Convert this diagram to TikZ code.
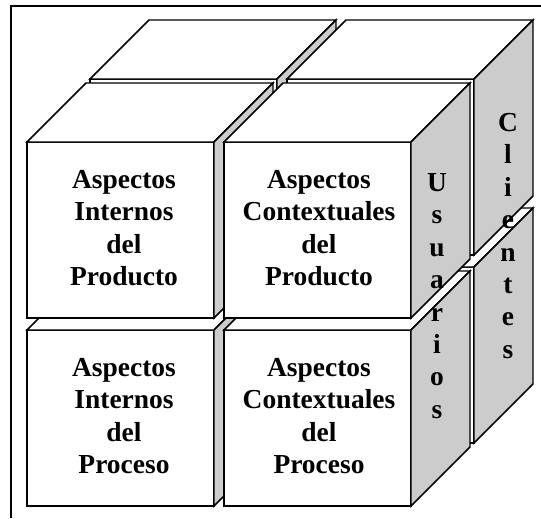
\documentclass[tikz,border=0pt]{standalone}
\usepackage{fontspec}
\setmainfont{Liberation Serif}
\definecolor{gris}{gray}{0.8}

\begin{document}
\begin{tikzpicture}[x=0.75pt, y=-0.75pt, z={(0.75pt,0.75pt)}]
	\tikzstyle{cara} = [draw, line width=1.1pt, fill=white];
	\tikzstyle{lado} = [cara, fill=gris];
	\tikzstyle{marco} = [line width=1.5pt];
	\tikzstyle{texto} = [align=center, inner sep=0pt, font={\bfseries\fontsize{20.6}{24.3}\selectfont}];

	\useasboundingbox (0,0) rectangle (541,518);
	\draw[marco] (11,518) -- (11,6) -- (541,6);

	% ancho, alto y fondo de cada cubo
	\def \an {187}
	\def \al {176}
	\def \fo {59}

	% de atras hacia adelante, de abajo hacia arriba
	\foreach \z in {63,0} {
		\foreach \y in {330,142} {
			\foreach \x in {27,224} {
				\draw[cara] (\x,\y,\z) rectangle (\x+\an,\y+\al,\z);
				\draw[cara] (\x,\y,\z) -- (\x+\an,\y,\z) -- (\x+\an,\y,\z+\fo) -- (\x,\y,\z+\fo) -- cycle;
				\draw[lado] (\x+\an,\y,\z) -- (\x+\an,\y,\z+\fo) -- (\x+\an,\y+\al,\z+\fo) -- (\x+\an,\y+\al,\z) -- cycle;
			}
		}
	}

	\node[texto] (intprod) at (124,228) {Aspectos\\Internos\\del\\Producto};
	\node[texto] (ctxprod) at (319,228) {Aspectos\\Contextuales\\del\\Producto};
	\node[texto] (intproc) at (124,416) {Aspectos\\Internos\\del\\Proceso};
	\node[texto] (ctxproc) at (319,416) {Aspectos\\Contextuales\\del\\Proceso};

	\node[texto] (usuarios) at (437,296) {U\\s\\u\\a\\r\\i\\o\\s};
	\node[texto] (clientes) at (508,236) {C\\l\\i\\e\\n\\t\\e\\s};
\end{tikzpicture}
\end{document}
